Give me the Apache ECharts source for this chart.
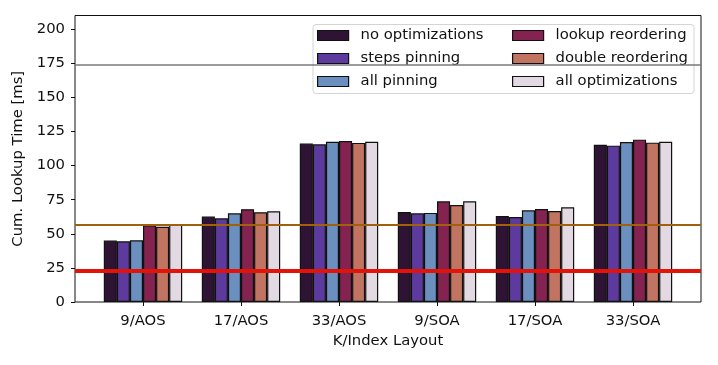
<!DOCTYPE html>
<html>
<head>
<meta charset="utf-8">
<script src="https://cdn.jsdelivr.net/npm/echarts@6/dist/echarts.min.js"></script>
<style>
html,body{margin:0;padding:0;background:#fff;}
#main{width:718px;height:365px;}
</style>
</head>
<body>
<div id="main"></div>
<script>
const categories = ['9/AOS', '17/AOS', '33/AOS', '9/SOA', '17/SOA', '33/SOA'];
const seriesNames = ['no optimizations', 'steps pinning', 'all pinning', 'lookup reordering', 'double reordering', 'all optimizations'];
const noOptimizations  = [45.0, 62.6, 116.1, 66.0, 63.0, 115.3];
const stepsPinning     = [44.5, 61.3, 115.6, 65.0, 62.3, 114.6];
const allPinning       = [45.2, 65.0, 117.5, 65.3, 67.2, 117.3];
const lookupReordering = [56.3, 68.0, 118.0, 73.8, 68.2, 119.0];
const doubleReordering = [55.2, 65.8, 116.6, 71.1, 66.7, 116.8];
const allOptimizations = [57.2, 66.5, 117.5, 73.8, 69.4, 117.5];
const seriesValues = [noOptimizations, stepsPinning, allPinning, lookupReordering, doubleReordering, allOptimizations];
const colors = ['#2f1335', '#5d3a9d', '#6b90c0', '#84234f', '#c17461', '#e2d9e2'];
const yTicks = [0, 25, 50, 75, 100, 125, 150, 175, 200];
const refLines = [174, 56.6, 22.7];
const refColors = ['#7a7a7a', '#a0600c', '#e2140a'];
const refWidths = [1.6, 1.8, 4];

const chart = echarts.init(document.getElementById('main'));
const font = 'DejaVu Sans';
const fs = 14.8;

const bars = seriesValues.map((vals, i) => ({
  name: seriesNames[i],
  type: 'bar',
  xAxisIndex: 1,
  yAxisIndex: 1,
  data: vals,
  barGap: '0%',
  barCategoryGap: '20%',
  z: 2,
  itemStyle: { color: colors[i], borderColor: '#111', borderWidth: 1.2 },
  emphasis: { disabled: true }
}));

const refSeries = {
  type: 'line',
  xAxisIndex: 0,
  yAxisIndex: 0,
  data: [],
  z: 3,
  silent: true,
  markLine: {
    silent: true,
    symbol: 'none',
    label: { show: false },
    animation: false,
    data: refLines.map((v, i) => ({ yAxis: v, lineStyle: { color: refColors[i], width: refWidths[i], type: 'solid' } }))
  }
};

const legendCommon = {
  orient: 'vertical',
  top: 23,
  itemWidth: 31,
  itemHeight: 10,
  itemGap: 8,
  selectedMode: false,
  icon: 'rect',
  z: 5,
  itemStyle: { borderColor: '#111', borderWidth: 1.2 },
  textStyle: { fontFamily: font, fontSize: fs, color: '#111', lineHeight: 12, padding: [0, 0, 0, 7] }
};

chart.setOption({
  animation: false,
  textStyle: { fontFamily: font },
  grid: [
    { left: 75, right: 17, top: 15.5, bottom: 63, show: true, borderColor: '#111', borderWidth: 1, backgroundColor: 'transparent' },
    { left: 94, right: 36, top: 15.5, bottom: 63 }
  ],
  xAxis: [
    { type: 'value', gridIndex: 0, min: 0, max: 1, show: false },
    {
      type: 'category', gridIndex: 1, data: categories,
      name: 'K/Index Layout', nameLocation: 'middle', nameGap: 31,
      nameTextStyle: { fontFamily: font, fontSize: fs, color: '#111' },
      axisLine: { show: false },
      axisTick: { show: true, alignWithLabel: true, length: 4, lineStyle: { color: '#111', width: 1 } },
      axisLabel: { fontFamily: font, fontSize: fs, color: '#111', margin: 12 }
    }
  ],
  yAxis: [
    {
      type: 'value', gridIndex: 0, min: 0, max: 210,
      name: 'Cum. Lookup Time [ms]', nameLocation: 'middle', nameGap: 45,
      nameTextStyle: { fontFamily: font, fontSize: fs, color: '#111' },
      axisLine: { show: false },
      splitLine: { show: false },
      axisTick: { show: true, length: 4, customValues: yTicks, lineStyle: { color: '#111' } },
      axisLabel: { fontFamily: font, fontSize: fs, color: '#111', margin: 10, customValues: yTicks }
    },
    { type: 'value', gridIndex: 1, min: 0, max: 210, show: false }
  ],
  legend: [
    Object.assign({}, legendCommon, { left: 312, data: seriesNames.slice(0, 3) }),
    Object.assign({}, legendCommon, { left: 507, data: seriesNames.slice(3, 6) })
  ],
  graphic: [
    { type: 'rect', left: 312.5, top: 24, z: 4, silent: true,
      shape: { width: 381, height: 69, r: 3 },
      style: { fill: 'rgba(255,255,255,0.82)', stroke: '#d4d4d4', lineWidth: 1 } }
  ],
  series: bars.concat([refSeries])
});
</script>
</body>
</html>
